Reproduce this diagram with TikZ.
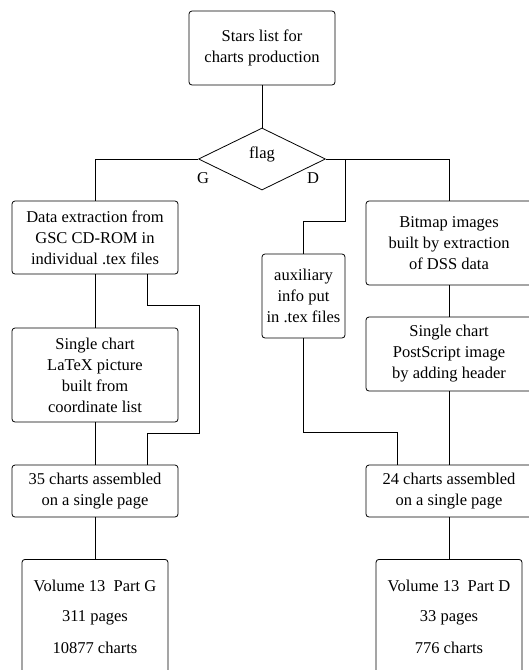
\documentclass[tikz,border=0pt]{standalone}
\usepackage{fontspec}
\setmainfont{Liberation Serif}
\usetikzlibrary{shapes.geometric}
\begin{document}
\begin{tikzpicture}[x=1pt,y=-1pt,
  box/.style={draw, rounded corners=3pt, line width=0.8pt, align=center, inner sep=0pt,
    font=\fontsize{16.5}{21}\selectfont},
  wire/.style={line width=0.8pt},
  lbl/.style={font=\fontsize{16.5}{18}\selectfont, inner sep=0pt}]
\useasboundingbox (0,0) rectangle (529,670);
\clip (0,0) rectangle (529,670);
\node[box, minimum width=146pt, minimum height=74pt] (top) at (262,48) {Stars list for\\charts production};
\node[draw, diamond, line width=0.8pt, minimum width=127pt, minimum height=62pt, aspect=2.05, inner sep=0pt] (flag) at (262,159) {};
\node[lbl] (flagt) at (262,154) {flag};
\node[lbl] (G) at (203,178) {G};
\node[lbl] (D) at (313,178) {D};
\node[box, minimum width=166pt, minimum height=73pt] (data) at (95,237.5) {Data extraction from\\GSC CD-ROM in\\individual .tex files};
\node[box, minimum width=166pt, minimum height=94pt] (latex) at (95,375) {Single chart\\LaTeX picture\\built from\\coordinate list};
\node[box, minimum width=166pt, minimum height=52pt] (g35) at (95,491) {35 charts assembled\\on a single page};
\node[box, minimum width=146pt, minimum height=118pt, anchor=north] (volG) at (95,559) {};
\node[lbl] (vg1) at (95,586) {Volume 13\ \ Part G};
\node[lbl] (vg2) at (95,618) {311 pages};
\node[lbl] (vg3) at (95,648) {10877 charts};
\node[box, minimum width=83pt, minimum height=84pt] (aux) at (303.5,296) {auxiliary\\info put\\in .tex files};
\node[box, minimum width=166pt, minimum height=84pt] (bmp) at (449,243) {Bitmap images\\built by extraction\\of DSS data};
\node[box, minimum width=166pt, minimum height=74pt] (ps) at (449,354) {Single chart\\PostScript image\\by adding header};
\node[box, minimum width=166pt, minimum height=52pt] (d24) at (449,491) {24 charts assembled\\on a single page};
\node[box, minimum width=146pt, minimum height=118pt, anchor=north] (volD) at (449,559) {};
\node[lbl] (vd1) at (449,586) {Volume 13\ \ Part D};
\node[lbl] (vd2) at (449,618) {33 pages};
\node[lbl] (vd3) at (449,648) {776 charts};
\coordinate (jd) at (345,159);
\coordinate (dataB) at (147,274);
\coordinate (g35T) at (147,465);
\coordinate (d24T) at (397,465);
\draw[wire] (top.south) -- (flag.north);
\draw[wire] (flag.west) -| (data.north);
\draw[wire] (flag.east) -| (bmp.north);
\draw[wire] (jd) -- (345,221) -| (aux.north);
\draw[wire] (data.south) -- (latex.north);
\draw[wire] (dataB) -- (147,305) -- (199,305) -- (199,433) -- (147,433) -- (g35T);
\draw[wire] (latex.south) -- (g35.north);
\draw[wire] (g35.south) -- (volG.north);
\draw[wire] (aux.south) -- (303.5,432) -| (d24T);
\draw[wire] (bmp.south) -- (ps.north);
\draw[wire] (ps.south) -- (d24.north);
\draw[wire] (d24.south) -- (volD.north);
\end{tikzpicture}
\end{document}
